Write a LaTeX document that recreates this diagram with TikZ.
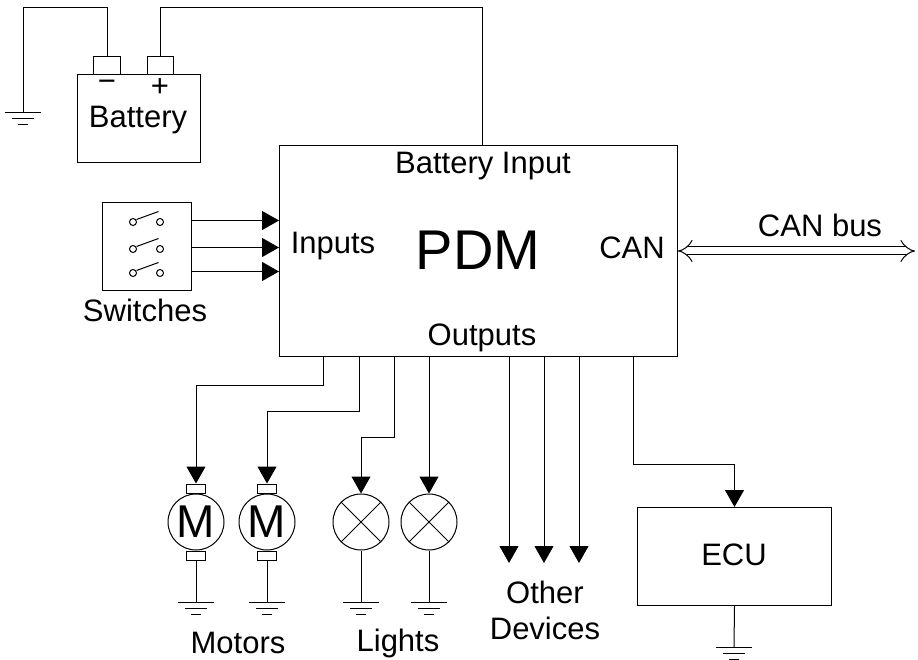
\documentclass[tikz,border=0pt]{standalone}
\usepackage{fontspec}
\setmainfont{Liberation Sans}
\usetikzlibrary{arrows.meta}
\begin{document}
\begin{tikzpicture}[x=1pt,y=-1pt, line width=1pt,
 arr/.style={-{Triangle[length=17pt,width=19pt]}},
 lbl/.style={font=\fontsize{31}{36}\selectfont, inner sep=0},
 box/.style={draw, inner sep=0, anchor=north west},
 term/.style={draw, inner sep=0, minimum width=19pt, minimum height=9pt},
 dev/.style={draw, circle, inner sep=0, minimum size=56pt, font=\fontsize{46}{50}\selectfont},
 gnd/.pic={\draw (-18,0)--(18,0) (-11,6)--(11,6) (-5,12)--(5,12);}
]
\useasboundingbox (0,0) rectangle (918,660);

% Battery
\node[box, minimum width=123pt, minimum height=88pt] (bat) at (77,74) {};
\node[box, minimum width=27pt, minimum height=18pt] (tm) at (93,56) {};
\node[box, minimum width=26pt, minimum height=18pt] (tp) at (147,56) {};
\node[lbl] (minus) at (107,86) {−};
\node[lbl] (plus) at (160,88) {+};
\node[lbl] (battxt) at (138,120) {Battery};
\coordinate (g0) at (23,113);
\draw (tm.north) -- ++(0,-48.5) -| (g0);
\pic at (g0) {gnd};

% PDM
\node[box, minimum width=398pt, minimum height=211pt] (pdm) at (279,145) {};
\node[lbl] (bi) at (483,166) {Battery Input};
\node[lbl] (inp) at (333,246) {Inputs};
\node[inner sep=0, font=\fontsize{56}{60}\selectfont] (pdmtxt) at (478,250) {PDM};
\node[lbl] (can) at (632,248) {CAN};
\node[lbl] (outp) at (482,338) {Outputs};
\coordinate (bin) at (482,145);
\draw (tp.north) -- ++(0,-48.5) -| (bin);

% Switches
\node[box, minimum width=89pt, minimum height=88pt] (sw) at (102,202) {};
\foreach \y in {222,249,273}{
  \draw (133,\y) circle (3.5);
  \draw (160,\y) circle (3.5);
  \draw (136.5,\y-2.5) -- (158.5,\y-10.5);
  \draw[arr] (sw.east |- 0,\y-1.5) -- (pdm.west |- 0,\y-1.5);
}
\node[lbl] (swtxt) at (145,310) {Switches};

% CAN bus
\coordinate (busend) at (915,251);
\draw[double, double distance=7pt, {Implies}-{Implies}] (pdm.east |- busend) -- (busend);
\node[lbl] (bustxt) at (820,225) {CAN bus};

% Motors
\foreach \n/\x in {1/196,2/267}{
  \node[dev] (m\n) at (\x,522) {M};
  \node[term] (m\n t) at (\x,488.5) {};
  \node[term] (m\n b) at (\x,555.5) {};
  \coordinate (gm\n) at (\x,602);
  \draw (m\n b.south) -- (gm\n);
  \pic at (gm\n) {gnd};
}
% Lamps
\foreach \n/\x in {1/361,2/429}{
  \node[dev] (l\n) at (\x,522) {};
  \draw (l\n.north west) -- (l\n.south east) (l\n.north east) -- (l\n.south west);
  \coordinate (gl\n) at (\x,602);
  \draw (l\n.south) -- (gl\n);
  \pic at (gl\n) {gnd};
}
\node[lbl] (mottxt) at (238,643) {Motors};
\node[lbl] (lighttxt) at (398,643) {Lights};

% Outputs
\coordinate (o1) at (323,356);
\coordinate (o2) at (359,356);
\coordinate (o3) at (394,356);
\coordinate (o4) at (429,356);
\draw[arr] (o1) -- ++(0,29) -| (m1t.north);
\draw[arr] (o2) -- ++(0,55) -| (m2t.north);
\draw[arr] (o3) -- ++(0,81) -| (l1.north);
\draw[arr] (o4) -- (l2.north);

% Other devices
\foreach \n/\x in {5/509,6/544,7/579}{
  \coordinate (o\n) at (\x,356);
  \coordinate (d\n) at (\x,563);
  \draw[arr] (o\n) -- (d\n);
}
\node[lbl] (othtxt) at (545,592) {Other};
\node[lbl] (devtxt) at (545,628) {Devices};

% ECU
\node[box, minimum width=194pt, minimum height=98pt] (ecu) at (637,507) {};
\node[lbl] (ecutxt) at (734,555) {ECU};
\coordinate (o8) at (633,356);
\draw[arr] (o8) -- ++(0,108) -| (ecu.north);
\coordinate (ge) at (734,647);
\draw (ecu.south) -- (ge);
\pic at (ge) {gnd};
\end{tikzpicture}
\end{document}
